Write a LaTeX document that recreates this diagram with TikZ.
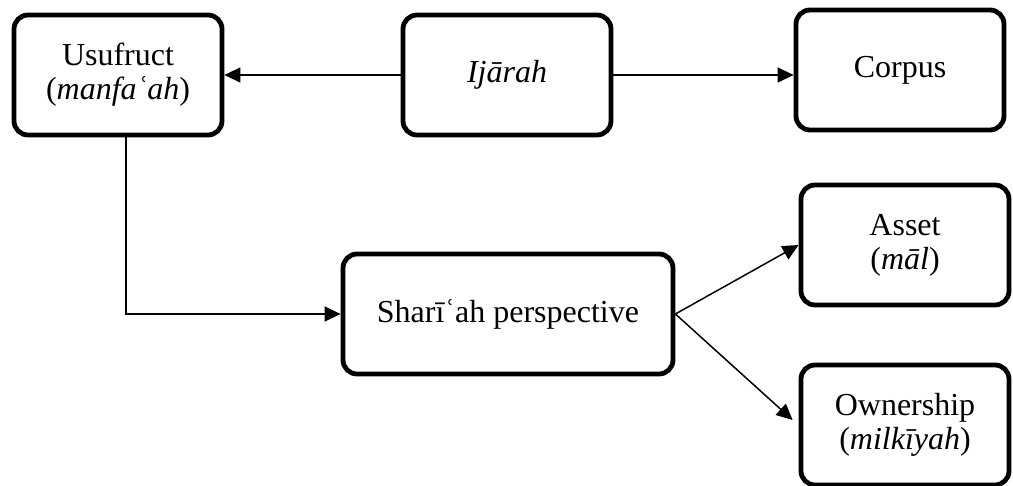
\documentclass[tikz,border=0pt]{standalone}
\usepackage{fontspec}
\setmainfont{Liberation Serif}
\usetikzlibrary{arrows.meta}

\tikzset{
  blk/.style={draw, line width=2.4pt, rounded corners=7pt, align=center,
    minimum width=104pt, minimum height=60pt, inner sep=2pt,
    font=\fontsize{16}{17}\selectfont},
  conn/.style={line width=0.75pt, -{Triangle[length=8pt,width=7.5pt]}}
}

\begin{document}
\begin{tikzpicture}[x=0.5pt, y=-0.5pt]
  \useasboundingbox (0,0) rectangle (1013,486);

  %% Top row
  \node[blk] (usufruct) at (118,75) {Usufruct\\(\textit{manfaʿah})};
  \node[blk] (ijarah) at (507,75) {\textit{Ijārah}};
  \node[blk] (corpus) at (900,70) {Corpus};

  %% Lower part
  \node[blk, minimum width=165pt] (sharia) at (508,314) {Sharīʿah perspective};
  \node[blk] (asset) at (905,245) {Asset\\(\textit{māl})};
  \node[blk] (owner) at (905,425) {Ownership\\(\textit{milkīyah})};

  %% Connectors
  \draw[conn] (ijarah.west) -- (usufruct.east);
  \draw[conn] (ijarah.east) -- (ijarah.east -| corpus.west);
  \draw[conn] ([xshift=4pt]usufruct.south) |- (sharia.west);
  \draw[conn] (sharia.east) -- (asset.west);
  \draw[conn] (sharia.east) -- ([shift={(-6,-5)}]owner.west);

\end{tikzpicture}
\end{document}
